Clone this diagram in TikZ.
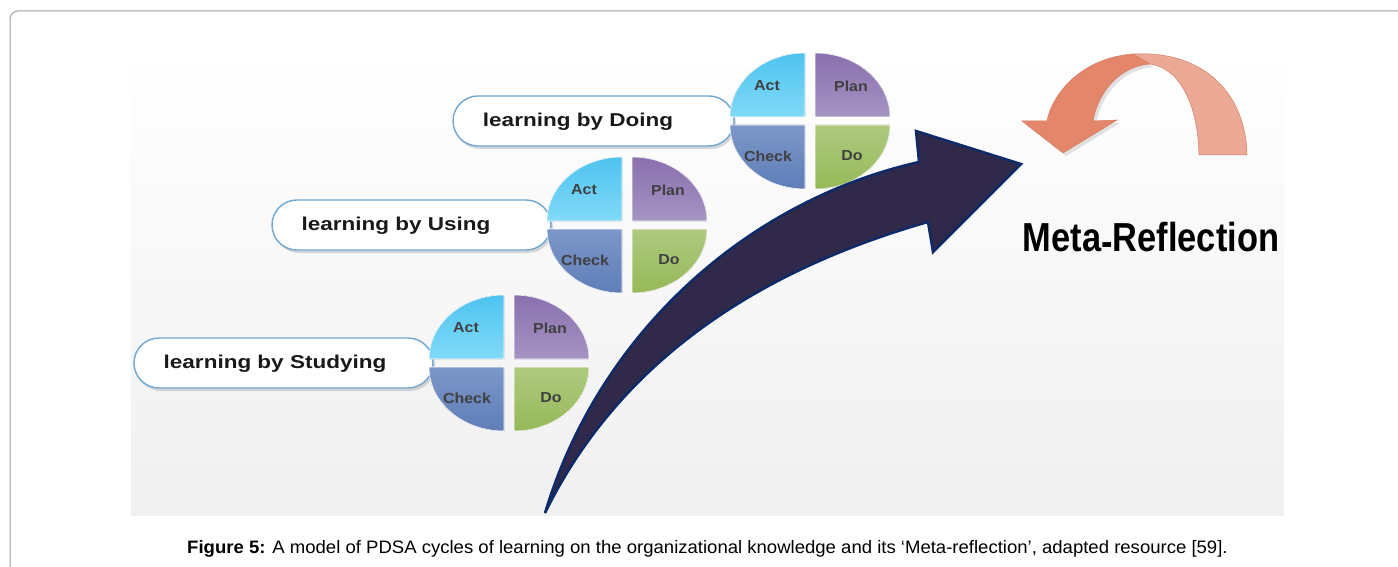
\documentclass[tikz,border=0pt]{standalone}
\usepackage{fontspec}
\setmainfont{Liberation Sans}
\usetikzlibrary{shadows}
\definecolor{actA}{HTML}{4DC3EF}
\definecolor{actB}{HTML}{82DAF8}
\definecolor{planA}{HTML}{8A70AE}
\definecolor{planB}{HTML}{A594C3}
\definecolor{checkA}{HTML}{7C97C9}
\definecolor{checkB}{HTML}{5F7EB8}
\definecolor{doA}{HTML}{AECA80}
\definecolor{doB}{HTML}{96B958}
\definecolor{qtext}{HTML}{404040}
\definecolor{pillrim}{HTML}{6FA6D2}
\definecolor{navyfill}{HTML}{30294A}
\definecolor{navyrim}{HTML}{0D2B68}
\definecolor{salmonA}{HTML}{E3866A}
\definecolor{salmonB}{HTML}{EBA996}
\definecolor{salmonrim}{HTML}{D67C62}
\tikzset{
  quad/.style={draw=white, line width=0.6pt},
  qlabel/.style={font=\fontsize{14.5}{16}\selectfont\bfseries, text=qtext, xscale=1.1, inner sep=0pt},
  pillbox/.style={draw=pillrim, line width=1.4pt, fill=white, rounded corners=25pt,
    minimum height=50pt, inner sep=0pt,
    drop shadow={shadow xshift=2pt, shadow yshift=-3pt, fill=black!30, opacity=0.5}},
  pilltext/.style={font=\fontsize{18.6}{20}\selectfont\bfseries, text=black!90, xscale=1.21, inner sep=0pt},
}
\newcommand{\pdsacycle}[3]{%
  \fill[quad, top color=actA, bottom color=actB] (#2-5,#3-4) -- ++(-75,0) arc[start angle=180, end angle=270, x radius=75, y radius=64] -- cycle;
  \fill[quad, top color=planA, bottom color=planB] (#2+5,#3-4) -- ++(0,-64) arc[start angle=270, end angle=360, x radius=75, y radius=64] -- cycle;
  \fill[quad, top color=checkA, bottom color=checkB] (#2-5,#3+4) -- ++(0,64) arc[start angle=90, end angle=180, x radius=75, y radius=64] -- cycle;
  \fill[quad, top color=doA, bottom color=doB] (#2+5,#3+4) -- ++(75,0) arc[start angle=0, end angle=90, x radius=75, y radius=64] -- cycle;
  \node[qlabel] (#1act) at (#2-43,#3-35) {Act};
  \node[qlabel] (#1plan) at (#2+41,#3-35) {Plan};
  \node[qlabel] (#1check) at (#2-42,#3+35) {Check};
  \node[qlabel] (#1do) at (#2+42,#3+35) {Do};
}
\begin{document}
\begin{tikzpicture}[x=1pt,y=-1pt]
\useasboundingbox (0,0) rectangle (1398,567);
\clip (0,0) rectangle (1398,567);
\fill[white] (0,0) rectangle (1398,567);
% outer frame
\draw[black!38, line width=1pt, rounded corners=8pt] (10,11) rectangle (1420,600);
% picture background
\shade[top color=white, bottom color=black!6] (131,50) rectangle (1284,515);
% pills
\node[pillbox, minimum width=281pt] (pillD) at (593.5,121) {};
\node[pillbox, minimum width=279pt] (pillU) at (411.5,225) {};
\node[pillbox, minimum width=299pt] (pillS) at (283.5,363) {};
\node[pilltext] (txtD) at (578,122) {learning by Doing};
\node[pilltext] (txtU) at (396,226) {learning by Using};
\node[pilltext] (txtS) at (275,364) {learning by Studying};
% PDSA cycles
\pdsacycle{d}{810}{121}
\pdsacycle{u}{627}{225}
\pdsacycle{s}{509}{363}
% big navy arrow
\draw[fill=navyfill, draw=navyrim, line width=2.5pt, line join=miter]
  (545,513) .. controls (600,330) and (750,200) .. (919,162)
  -- (916,131) -- (1021,164) -- (933,252) -- (928,222)
  .. controls (760,270) and (620,360) .. cycle;
% salmon curved arrow
\fill[black!12] (1136,57) .. controls (1083,61) and (1055,98) .. (1050,124) -- (1025,124) -- (1066,156) -- (1120,123) -- (1096,124) .. controls (1101,95) and (1123,69) .. (1153,67) -- cycle;
\draw[fill=salmonA, draw=salmonrim, line width=0.5pt]
  (1133,54) .. controls (1080,58) and (1052,95) .. (1047,121) -- (1022,121) -- (1063,153) -- (1117,120) -- (1093,121)
  .. controls (1098,92) and (1120,66) .. (1150,64) -- cycle;
\draw[fill=salmonB, draw=salmonrim, line width=0.5pt]
  (1133,54) .. controls (1205,50) and (1246,95) .. (1247,155) -- (1199,155)
  .. controls (1198,105) and (1180,68) .. (1150,64) -- cycle;
% meta reflection
\node[font=\fontsize{40.5}{44}\selectfont\bfseries, xscale=0.85, inner sep=0pt, anchor=base] (meta) at (1151,251) {Meta\raisebox{-5pt}{-}Reflection};
% caption
\node[font=\fontsize{18}{20}\selectfont, xscale=1.03, inner sep=0pt, anchor=base] (caption) at (707.5,553) {\textbf{Figure 5:} A model of PDSA cycles of learning on the organizational knowledge and its ‘Meta-reflection’, adapted resource [59].};
\end{tikzpicture}
\end{document}
